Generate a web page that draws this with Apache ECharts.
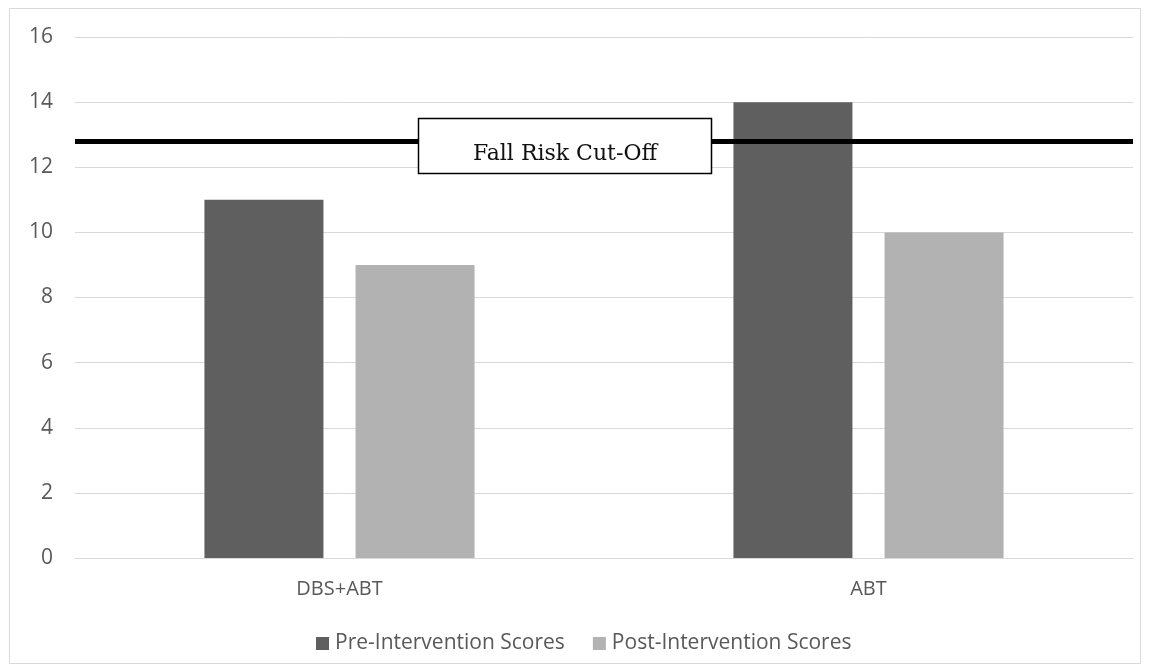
<!DOCTYPE html>
<html>
<head>
<meta charset="utf-8">
<script src="https://cdn.jsdelivr.net/npm/echarts@6/dist/echarts.min.js"></script>
<style>
  body { margin: 0; background: #fff; }
  #main { width: 1149px; height: 672px; }
</style>
</head>
<body>
<div id="main"></div>
<script>
var categories = ['DBS+ABT', 'ABT'];
var preScores = [11, 14];
var postScores = [9, 10];
var cutOff = 12.8;
var yTicks = { min: 0, max: 16, interval: 2 };

var myChart = echarts.init(document.getElementById('main'));

var labelFont = { color: '#595959', fontSize: 20, fontFamily: 'Open Sans' };

var option = {
    animation: false,
    grid: { left: 75, right: 16, top: 37, bottom: 114 },
    legend: {
        top: 633,
        left: 316,
        padding: 0,
        itemWidth: 13,
        itemHeight: 13,
        itemGap: 28,
        icon: 'rect',
        textStyle: { color: '#595959', fontSize: 21, fontFamily: 'Open Sans', padding: [0, 0, 0, 1] },
        data: ['Pre-Intervention Scores', 'Post-Intervention Scores']
    },
    xAxis: {
        type: 'category',
        data: categories,
        axisLine: { lineStyle: { color: '#d9d9d9' } },
        axisTick: { show: false },
        axisLabel: Object.assign({ margin: 21 }, labelFont)
    },
    yAxis: {
        type: 'value',
        min: yTicks.min,
        max: yTicks.max,
        interval: yTicks.interval,
        axisLine: { show: false },
        axisTick: { show: false },
        axisLabel: Object.assign({ margin: 22 }, labelFont, { fontSize: 21 }),
        splitLine: { lineStyle: { color: '#d9d9d9', width: 1 } }
    },
    series: [{
        name: 'Pre-Intervention Scores',
        type: 'bar',
        data: preScores,
        barWidth: 119,
        barGap: '27%',
        itemStyle: { color: '#5f5f5f' },
        markLine: {
            silent: true,
            symbol: 'none',
            label: { show: false },
            lineStyle: { color: '#000', width: 5, type: 'solid' },
            data: [{ yAxis: cutOff }]
        }
    }, {
        name: 'Post-Intervention Scores',
        type: 'bar',
        data: postScores,
        barWidth: 119,
        itemStyle: { color: '#b2b2b2' }
    }],
    graphic: [{
        type: 'rect',
        shape: { x: 9.5, y: 8.5, width: 1131, height: 655 },
        style: { fill: null, stroke: '#d9d9d9', lineWidth: 1 },
        z: -1
    }, {
        type: 'rect',
        z: 100,
        shape: { x: 418.5, y: 118.5, width: 293, height: 55 },
        style: { fill: '#fff', stroke: '#000', lineWidth: 1.5 }
    }, {
        type: 'text',
        z: 101,
        x: 565,
        y: 154,
        style: {
            text: 'Fall Risk Cut-Off',
            fill: '#111',
            fontSize: 22,
            fontFamily: 'DejaVu Serif',
            align: 'center',
            verticalAlign: 'middle'
        }
    }]
};

myChart.setOption(option);
</script>
</body>
</html>
